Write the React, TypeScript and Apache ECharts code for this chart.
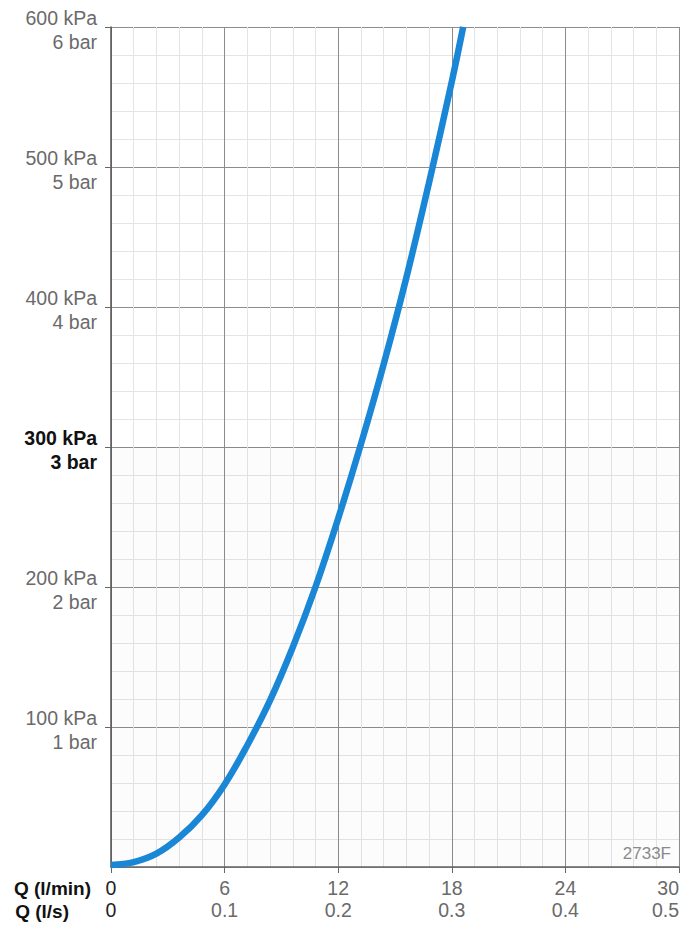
import React, { useEffect, useRef } from "react";
import * as echarts from "echarts";

// Flow rate (l/min) and the corresponding pressure loss (kPa)
const flowLpm = [0, 1.2, 2.4, 3.6, 4.8, 6, 7.2, 8.4, 9.6, 10.8, 12, 13.2, 14.4, 15.6, 16.8, 18, 18.6];
const pressureKpa = [1.5, 3.5, 9.5, 21, 37, 59, 87, 119, 157, 200, 249, 302, 359, 421, 489, 561, 600];

// Axis tick labels
const flowLpmTicks = ["0", "6", "12", "18", "24", "30"];
const flowLpsTicks = ["0", "0.1", "0.2", "0.3", "0.4", "0.5"];
const kpaTicks = ["", "100 kPa", "200 kPa", "300 kPa", "400 kPa", "500 kPa", "600 kPa"];
const barTicks = ["", "1 bar", "2 bar", "3 bar", "4 bar", "5 bar", "6 bar"];

const FONT = "'Liberation Sans', Arial, Helvetica, sans-serif";

export default function App() {
  const ref = useRef<HTMLDivElement>(null);

  useEffect(() => {
    if (!ref.current) return;
    const chart = echarts.init(ref.current, undefined, { renderer: "svg" });

    const data = flowLpm.map((q, i) => [q, pressureKpa[i]]);

    chart.setOption({
      animation: false,
      backgroundColor: "#ffffff",
      textStyle: { fontFamily: FONT },
      grid: { left: 111, right: 15, top: 27, bottom: 65, containLabel: false },
      xAxis: {
        type: "value",
        min: 0,
        max: 30,
        interval: 6,
        axisLine: { show: true, lineStyle: { color: "#666666", width: 1.5 } },
        axisTick: { show: true, length: 6, lineStyle: { color: "#666666" } },
        splitLine: { show: true, lineStyle: { color: "#8c8c8c", width: 1 } },
        minorTick: { show: false, splitNumber: 5 },
        minorSplitLine: { show: true, lineStyle: { color: "#e4e4e4", width: 1 } },
        axisLabel: {
          margin: 10,
          showMaxLabel: true,
          alignMaxLabel: "right",
          formatter: (v: number) => {
            const i = Math.round(v / 6);
            const s = i === 0 ? "z" : "a";
            return `{${s}|${flowLpmTicks[i]}}\n{${s}|${flowLpsTicks[i]}}`;
          },
          rich: {
            a: { fontSize: 19.5, lineHeight: 22, color: "#6a6a6a", fontFamily: FONT },
            z: { fontSize: 19.5, lineHeight: 22, color: "#222222", fontFamily: FONT },
          },
        },
      },
      yAxis: {
        type: "value",
        min: 0,
        max: 600,
        interval: 100,
        axisLine: { show: true, lineStyle: { color: "#555555", width: 1.5 } },
        axisTick: { show: true, length: 6, lineStyle: { color: "#666666" } },
        splitLine: { show: true, lineStyle: { color: "#8c8c8c", width: 1 } },
        minorTick: { show: false, splitNumber: 5 },
        minorSplitLine: { show: true, lineStyle: { color: "#e4e4e4", width: 1 } },
        axisLabel: {
          margin: 14,
          showMinLabel: false,
          padding: [6, 0, 0, 0],
          formatter: (v: number) => {
            const i = Math.round(v / 100);
            if (i === 0) return "";
            const s = i === 3 ? "b" : "a";
            return `{${s}|${kpaTicks[i]}}\n{${s}|${barTicks[i]}}`;
          },
          rich: {
            a: { fontSize: 19.5, lineHeight: 24, color: "#6a6a6a", align: "right", fontFamily: FONT },
            b: { fontSize: 19.5, lineHeight: 24, color: "#111111", fontWeight: "bold", align: "right", fontFamily: FONT },
          },
        },
      },
      series: [
        {
          type: "line",
          data,
          smooth: 0.4,
          showSymbol: false,
          clip: true,
          lineStyle: { color: "#1a86d6", width: 6.5 },
          markArea: {
            silent: true,
            itemStyle: { color: "rgba(0,0,0,0.012)" },
            data: [[{ yAxis: 0 }, { yAxis: 300 }]],
          },
          z: 5,
        },
      ],
      graphic: [
        {
          type: "text",
          x: 91,
          y: 888,
          style: {
            text: "Q (l/min)",
            fontSize: 19,
            fontWeight: "bold",
            fill: "#111111",
            fontFamily: FONT,
            textAlign: "right",
            textVerticalAlign: "middle",
          },
        },
        {
          type: "text",
          x: 69,
          y: 911,
          style: {
            text: "Q (l/s)",
            fontSize: 19,
            fontWeight: "bold",
            fill: "#111111",
            fontFamily: FONT,
            textAlign: "right",
            textVerticalAlign: "middle",
          },
        },
        {
          type: "text",
          x: 671,
          y: 853,
          z: 10,
          style: {
            text: "2733F",
            fontSize: 17,
            fill: "#8a8a8a",
            fontFamily: FONT,
            textAlign: "right",
            textVerticalAlign: "middle",
          },
        },
      ],
    });

    return () => chart.dispose();
  }, []);

  return (
    <div
      ref={ref}
      style={{ position: "absolute", left: 0, top: 0, width: 694, height: 932 }}
    />
  );
}
